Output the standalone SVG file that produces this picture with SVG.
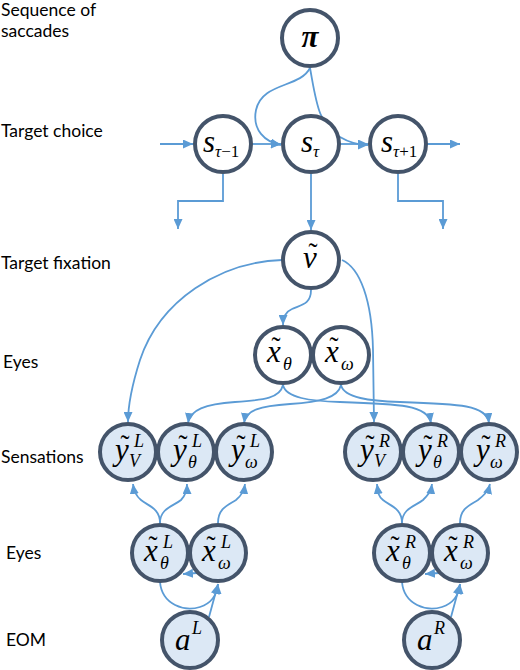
<svg xmlns="http://www.w3.org/2000/svg" width="520" height="670" viewBox="0 0 520 670">
<style>
.lbl{font-family:Lato,"Open Sans",sans-serif;font-size:17.5px;fill:#000}
.n{stroke:#44546a;stroke-width:4;fill:#fff}
.nb{stroke:#44546a;stroke-width:4;fill:#dce8f5}
.m{font-family:"Liberation Serif",serif;font-style:italic;font-size:31px;fill:#000}
.s{font-size:18px}
.u{font-style:normal}
.t{font-family:"Liberation Serif",serif;font-size:27px;fill:#000}
.c path{fill:none;stroke:#5b9bd5;stroke-width:1.8;marker-end:url(#ah)}
</style>
<defs>
<marker id="ah" markerUnits="userSpaceOnUse" markerWidth="10" markerHeight="9" refX="10" refY="4.5" orient="auto">
<path d="M0,0 L10,4.5 L0,9 z" fill="#5b9bd5"/>
</marker>
</defs>
<g id="labels">
<text class="lbl" x="1" y="16">Sequence of</text>
<text class="lbl" x="1" y="37">saccades</text>
<text class="lbl" x="1" y="137">Target choice</text>
<text class="lbl" x="1" y="269">Target fixation</text>
<text class="lbl" x="3" y="368">Eyes</text>
<text class="lbl" x="1" y="463">Sensations</text>
<text class="lbl" x="6" y="559">Eyes</text>
<text class="lbl" x="6" y="646">EOM</text>
</g>
<g id="connectors" class="c">
<path d="M160,144 L193,144"/>
<path d="M252,144 L281,144"/>
<path d="M340,144 L368,144"/>
<path d="M427,144 L460,144"/>
<path d="M223,174 V201 H178 V229"/>
<path d="M398,174 V201 H443 V229"/>
<path d="M311,174 V230"/>
<path d="M310,68 C300,88 262,82 256,110 C252,130 265,142 281,145"/>
<path d="M310,68 C316,100 318,125 340,137 C350,143 358,145 368,145"/>
<path d="M282,260 C220,262 160,300 140,360 C132,385 128,405 128,422"/>
<path d="M342,260 C360,268 372,300 373,350 L374,422"/>
<path d="M311,290 C311,305 300,305 292,309 C285,312 283,318 283,325"/>
<path d="M283,385 C280,398 265,400 235,402 C205,404 190,410 188,423"/>
<path d="M341,385 C338,398 320,402 290,404 C260,406 246,410 244,423"/>
<path d="M283,385 C286,398 310,401 340,402 C400,404 428,405 431,423"/>
<path d="M341,385 C344,398 370,401 400,402 C460,404 487,405 489,423"/>
<path d="M160,523 C160,508 148,506 141,500 C136,496 134,492 133,484"/>
<path d="M160,523 C160,508 174,506 181,500 C185,496 187,492 187,484"/>
<path d="M218,523 C218,508 228,505 236,500 C241,496 244,492 245,484"/>
<path d="M197,573 L183,574"/>
<path d="M160,582 C162,605 185,612 200,607 C212,603 217,595 218,584"/>
<path d="M209,617 L218,584"/>
<path d="M402,523 C402,508 390,506 383,500 C378,496 378,492 377,484"/>
<path d="M402,523 C402,508 416,506 423,500 C427,496 431,492 432,484"/>
<path d="M460,523 C460,508 470,505 478,500 C483,496 488,492 490,484"/>
<path d="M439,573 L425,574"/>
<path d="M402,582 C404,605 427,612 442,607 C454,603 459,595 460,584"/>
<path d="M451,617 L460,584"/>
</g>
<g id="pi"><circle class="n" cx="310" cy="38" r="28"/><text class="m" x="310" y="47" text-anchor="middle" font-weight="bold">π</text></g>
<g id="s_prev"><circle class="n" cx="223" cy="144" r="28"/><text class="m" x="203" y="152">s<tspan font-size="17" dy="5">τ<tspan class="u">−1</tspan></tspan></text></g>
<g id="s_cur"><circle class="n" cx="311" cy="144" r="28"/><text class="m" x="301" y="152">s<tspan font-size="17" dy="5">τ</tspan></text></g>
<g id="s_next"><circle class="n" cx="398" cy="144" r="28"/><text class="m" x="381" y="152">s<tspan font-size="17" dy="5">τ<tspan class="u">+1</tspan></tspan></text></g>
<g id="v"><circle class="n" cx="311" cy="260" r="28"/><text class="m" x="310" y="268" text-anchor="middle">v</text><text class="t" x="313" y="262" text-anchor="middle">˜</text></g>
<g id="x_theta"><circle class="n" cx="283" cy="355" r="28"/><text class="m" x="267" y="362">x</text><text class="t" x="276" y="356" text-anchor="middle">˜</text><text class="m s" x="283" y="370">θ</text></g>
<g id="x_omega"><circle class="n" cx="341" cy="355" r="28"/><text class="m" x="325" y="362">x</text><text class="t" x="334" y="356" text-anchor="middle">˜</text><text class="m s" x="341" y="370">ω</text></g>
<g id="yVL"><circle class="nb" cx="128" cy="452" r="28"/><text class="m" x="115" y="460">y</text><text class="t" x="125" y="454" text-anchor="middle">˜</text><text class="m s" x="134" y="447">L</text><text class="m s" x="129" y="467">V</text></g>
<g id="yTL"><circle class="nb" cx="186" cy="452" r="28"/><text class="m" x="173" y="460">y</text><text class="t" x="183" y="454" text-anchor="middle">˜</text><text class="m s" x="192" y="447">L</text><text class="m s" x="188" y="468">θ</text></g>
<g id="yOL"><circle class="nb" cx="244" cy="452" r="28"/><text class="m" x="231" y="460">y</text><text class="t" x="241" y="454" text-anchor="middle">˜</text><text class="m s" x="250" y="447">L</text><text class="m s" x="245" y="468">ω</text></g>
<g id="yVR"><circle class="nb" cx="373" cy="452" r="28"/><text class="m" x="360" y="460">y</text><text class="t" x="370" y="454" text-anchor="middle">˜</text><text class="m s" x="379" y="447">R</text><text class="m s" x="374" y="467">V</text></g>
<g id="yTR"><circle class="nb" cx="431" cy="452" r="28"/><text class="m" x="418" y="460">y</text><text class="t" x="428" y="454" text-anchor="middle">˜</text><text class="m s" x="437" y="447">R</text><text class="m s" x="433" y="468">θ</text></g>
<g id="yOR"><circle class="nb" cx="489" cy="452" r="28"/><text class="m" x="476" y="460">y</text><text class="t" x="486" y="454" text-anchor="middle">˜</text><text class="m s" x="495" y="447">R</text><text class="m s" x="490" y="468">ω</text></g>
<g id="xTL"><circle class="nb" cx="160" cy="553" r="28"/><text class="m" x="144" y="561">x</text><text class="t" x="153" y="555" text-anchor="middle">˜</text><text class="m s" x="163" y="548">L</text><text class="m s" x="160" y="569">θ</text></g>
<g id="xOL"><circle class="nb" cx="218" cy="553" r="28"/><text class="m" x="202" y="561">x</text><text class="t" x="211" y="555" text-anchor="middle">˜</text><text class="m s" x="221" y="548">L</text><text class="m s" x="218" y="569">ω</text></g>
<g id="xTR"><circle class="nb" cx="402" cy="553" r="28"/><text class="m" x="386" y="561">x</text><text class="t" x="395" y="555" text-anchor="middle">˜</text><text class="m s" x="405" y="548">R</text><text class="m s" x="402" y="569">θ</text></g>
<g id="xOR"><circle class="nb" cx="460" cy="553" r="28"/><text class="m" x="444" y="561">x</text><text class="t" x="453" y="555" text-anchor="middle">˜</text><text class="m s" x="463" y="548">R</text><text class="m s" x="460" y="569">ω</text></g>
<g id="aL"><circle class="nb" cx="190" cy="640" r="28"/><text class="m" x="175" y="650">a</text><text class="m s" x="192" y="634">L</text></g>
<g id="aR"><circle class="nb" cx="432" cy="640" r="28"/><text class="m" x="417" y="650">a</text><text class="m s" x="434" y="634">R</text></g>
</svg>
